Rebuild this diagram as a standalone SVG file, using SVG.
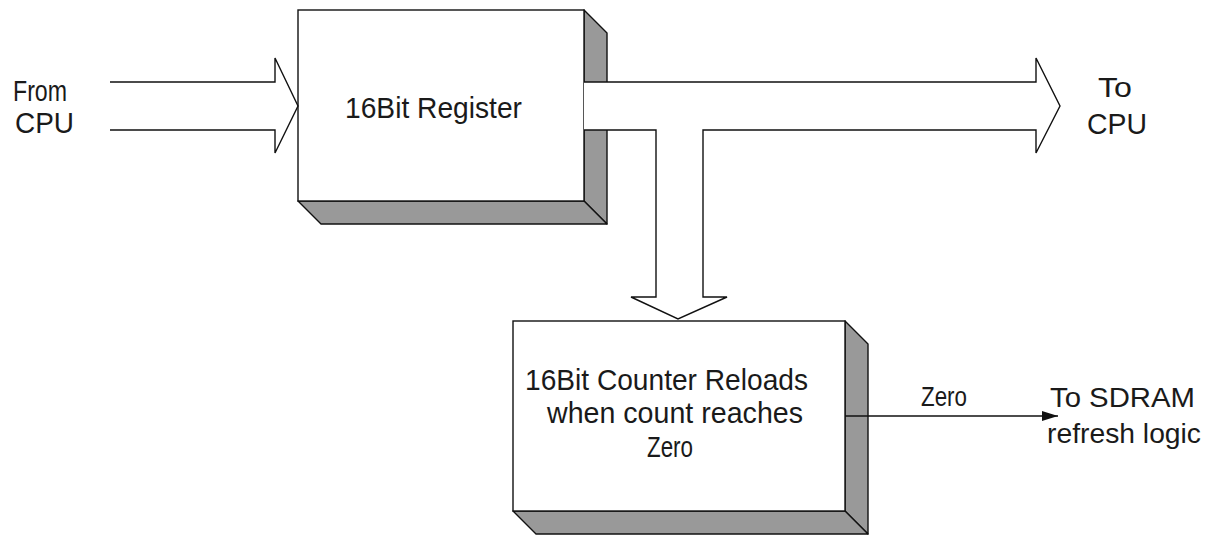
<svg xmlns="http://www.w3.org/2000/svg" width="1212" height="535" viewBox="0 0 1212 535">
<style>
.shade{fill:#999999;stroke:#111;stroke-width:1.4;stroke-linejoin:round}
.face{fill:#fff;stroke:#111;stroke-width:1.4}
.ln{fill:none;stroke:#111;stroke-width:1.4;stroke-linejoin:miter}
.t{font-family:"Liberation Sans",Arial,sans-serif;fill:#1a1a1a}
</style>
<defs>
<marker id="ah" markerWidth="16" markerHeight="10" refX="16" refY="5" orient="auto" markerUnits="userSpaceOnUse">
<path d="M0,0 L16,5 L0,10 Z" fill="#111"/>
</marker>
</defs>
<rect width="1212" height="535" fill="#fff"/>
<g id="register">
<polygon class="shade" points="584,10 607,33 607,224 584,201"/>
<polygon class="shade" points="298,201 321,224 607,224 584,201"/>
<rect class="face" x="298" y="10" width="286" height="191"/>
<text class="t" x="345" y="118" font-size="29" textLength="177" lengthAdjust="spacingAndGlyphs">16Bit Register</text>
</g>
<g id="counter">
<polygon class="shade" points="845,321 868,344 868,534 845,511"/>
<polygon class="shade" points="513,511 536,534 868,534 845,511"/>
<rect class="face" x="513" y="321" width="332" height="190"/>
<text class="t" x="525" y="390" font-size="30" textLength="283" lengthAdjust="spacingAndGlyphs">16Bit Counter Reloads</text>
<text class="t" x="547" y="423" font-size="30" textLength="256" lengthAdjust="spacingAndGlyphs">when count reaches</text>
<text class="t" x="647" y="457" font-size="30" textLength="46" lengthAdjust="spacingAndGlyphs">Zero</text>
</g>
<g id="labels">
<text class="t" x="13" y="101" font-size="30" textLength="54" lengthAdjust="spacingAndGlyphs">From</text>
<text class="t" x="15" y="133" font-size="30" textLength="59" lengthAdjust="spacingAndGlyphs">CPU</text>
<text class="t" x="1098" y="97" font-size="28" textLength="34" lengthAdjust="spacingAndGlyphs">To</text>
<text class="t" x="1087" y="134" font-size="30" textLength="60" lengthAdjust="spacingAndGlyphs">CPU</text>
<text class="t" x="921" y="406" font-size="27" textLength="46" lengthAdjust="spacingAndGlyphs">Zero</text>
<text class="t" x="1050" y="407" font-size="28" textLength="145" lengthAdjust="spacingAndGlyphs">To SDRAM</text>
<text class="t" x="1047" y="443" font-size="28" textLength="154" lengthAdjust="spacingAndGlyphs">refresh logic</text>
</g>
<g id="connectors">
<path class="ln" d="M110,82 L275,82 L275,58 L298,106 L275,153 L275,130 L110,130"/>
<path d="M584,82 L1036,82 L1036,58 L1060,106 L1036,153 L1036,130 L703,130 L703,297 L727,297 L678,319 L631,297 L656,297 L656,130 L584,130 Z" fill="#fff" stroke="none"/>
<path class="ln" d="M584,82 L1036,82 L1036,58 L1060,106 L1036,153 L1036,130 L703,130 L703,297 L727,297 L678,319 L631,297 L656,297 L656,130 L584,130"/>
<line class="ln" x1="845" y1="416" x2="1058" y2="416" marker-end="url(#ah)"/>
</g>
</svg>
